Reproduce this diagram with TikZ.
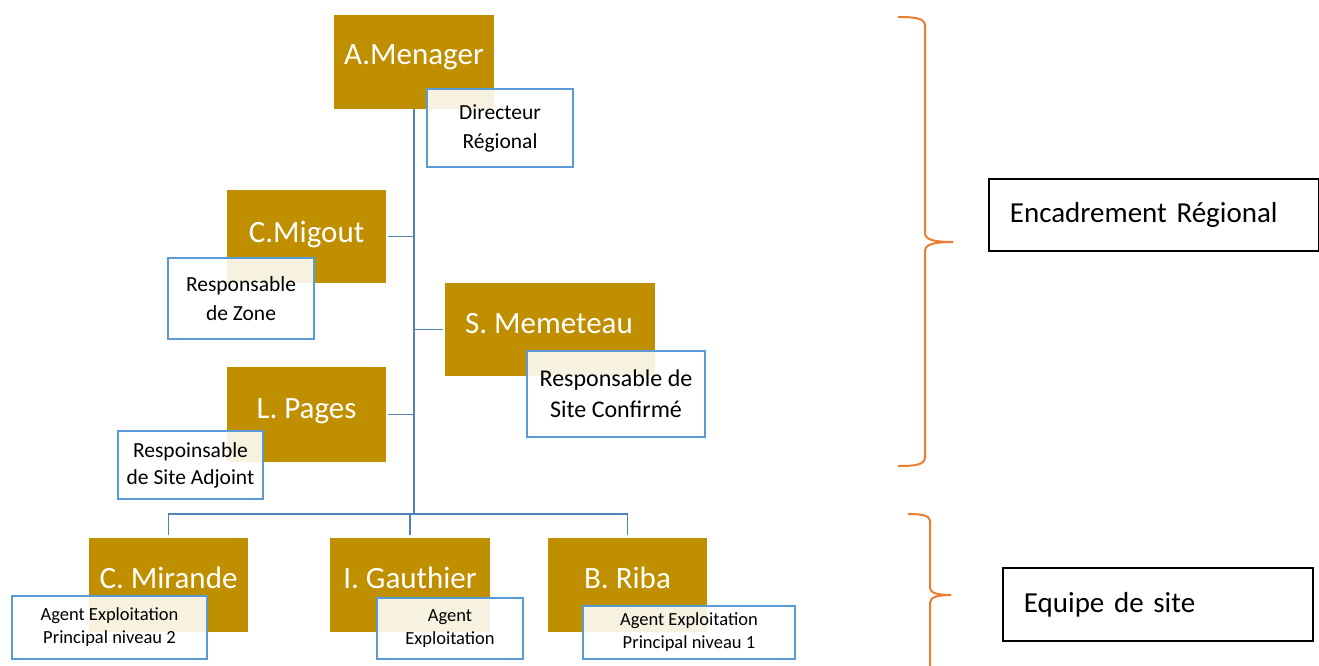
\documentclass[tikz,border=0pt]{standalone}
\usepackage{fontspec}
\setmainfont{Carlito}
\definecolor{gold}{HTML}{BF8F00}
\definecolor{wblue}{HTML}{5B9BD5}
\definecolor{lblue}{HTML}{5282BA}
\definecolor{brorange}{HTML}{ED7D31}
\tikzset{
  goldbox/.style={draw=none, fill=gold, inner sep=0pt, outer sep=0pt, minimum width=#1},
  goldname/.style={anchor=base, text=white, font=\fontsize{31}{36}\selectfont, inner sep=0pt},
  rolebox/.style={draw=wblue, line width=1.6pt, fill=white, fill opacity=0.88, text opacity=1,
    inner sep=0pt, outer sep=0pt, align=center, font=\fontsize{21.5}{29}\selectfont},
  rolesmall/.style={rolebox, font=\fontsize{18.5}{23}\selectfont},
  conn/.style={draw=lblue, line width=1.9pt},
  brc/.style={draw=brorange, line width=2pt},
  sidebox/.style={draw=black, line width=1.8pt, inner xsep=21pt, inner ysep=0pt, align=left,
    font=\fontsize{29}{34}\selectfont, anchor=west}
}
\begin{document}
\begin{tikzpicture}[x=1pt,y=-1pt]
\useasboundingbox (0,0) rectangle (1319,666);
\fill[white] (0,0) rectangle (1319,666);
% gold boxes
\node[goldbox=160pt, minimum height=94pt] (menager)  at (414,62) {};
\node[goldbox=159pt, minimum height=93pt] (migout)   at (306.5,236.5) {};
\node[goldbox=210pt, minimum height=93pt] (memeteau) at (550,329.5) {};
\node[goldbox=159pt, minimum height=95pt] (pages)    at (306.5,414.5) {};
\node[goldbox=159pt, minimum height=94pt] (mirande)  at (168.5,585) {};
\node[goldbox=160pt, minimum height=94pt] (gauthier) at (410,585) {};
\node[goldbox=159pt, minimum height=94pt] (riba)     at (627.5,585) {};
\coordinate (J) at (415,514);
% connectors
\draw[conn] (menager.south) -- (menager.south |- J);
\draw[conn, shorten <=2pt] (migout.east) -- (migout.east -| J);
\draw[conn, shorten <=2pt] (memeteau.west) -- (memeteau.west -| J);
\draw[conn, shorten <=2pt] (pages.east) -- (pages.east -| J);
\draw[conn, shorten <=3pt, shorten >=3pt] (mirande.north) |- (J) -| (riba.north);
\draw[conn, shorten <=3pt] (gauthier.north) -- (gauthier.north |- J);
% names
\node[goldname] (tmenager)  at (414,65)   {A.Menager};
\node[goldname] (tmigout)   at (306.5,242) {C.Migout};
\node[goldname] (tmemeteau) at (549,333)  {S. Memeteau};
\node[goldname] (tpages)    at (306.5,418) {L. Pages};
\node[goldname] (tmirande)  at (168.5,588) {C. Mirande};
\node[goldname] (tgauthier) at (410,588)  {I. Gauthier};
\node[goldname] (triba)     at (627.5,588) {B. Riba};
% role boxes
\node[rolebox, minimum width=146pt, minimum height=78pt] (rdir)  at (500,128) {Directeur\\Régional};
\node[rolebox, minimum width=146pt, minimum height=81pt] (rzone) at (241,298.5) {Responsable\\de Zone};
\node[rolebox, minimum width=178pt, minimum height=86pt, font=\fontsize{24}{31}\selectfont] (rconf) at (616,394) {Responsable de\\Site Confirmé};
\node[rolebox, minimum width=145pt, minimum height=68pt, font=\fontsize{21.5}{27}\selectfont] (radj)  at (190.5,465) {Respoinsable\\de Site Adjoint};
\node[rolesmall, minimum width=195pt, minimum height=63pt] (rap2) at (109.5,627.5) {Agent Exploitation\\Principal niveau 2};
\node[rolesmall, minimum width=146pt, minimum height=61pt] (rae)  at (450,628.5) {Agent\\Exploitation};
\node[rolesmall, minimum width=212pt, minimum height=53pt] (rap1) at (689,632.5) {Agent Exploitation\\Principal niveau 1};
% braces
\draw[brc] (898,17) .. controls (915,17) and (925,18) .. (925,26) -- (925,233)
  .. controls (925,240) and (935,242) .. (953,242);
\draw[brc] (953,242) .. controls (935,242) and (925,244) .. (925,251) -- (925,457)
  .. controls (925,465) and (915,466) .. (898,466);
\draw[brc] (908,514) .. controls (920,514) and (930,515) .. (930,521) -- (930,588)
  .. controls (930,593) and (938,595) .. (951,595);
\draw[brc] (951,595) .. controls (938,595) and (930,597) .. (930,603) -- (930,666);
% side labels
\node[sidebox, text width=288pt, minimum height=72pt] (enc) at (988,215) {Encadrement Régional};
\node[sidebox, text width=268pt, minimum height=73pt] (equ) at (1002,604.5) {Equipe de site};
\end{tikzpicture}
\end{document}
